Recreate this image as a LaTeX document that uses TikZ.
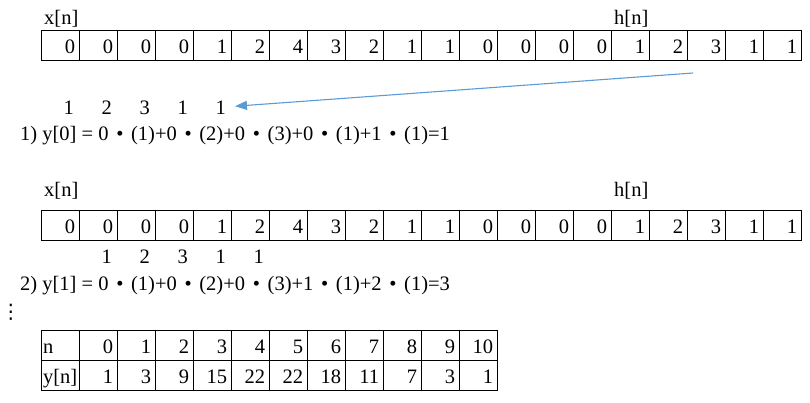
\documentclass[tikz,border=0pt]{standalone}
\usepackage{fontspec}
\setmainfont{Liberation Serif}
\newfontfamily\symfont{DejaVu Sans}
\usepackage{xcolor}
\usetikzlibrary{arrows.meta}

\definecolor{arrowblue}{RGB}{91,155,213}
\newcommand{\mdot}{\makebox[1.1em]{•}}

\tikzset{
  cell/.style={draw, line width=0.8pt, minimum width=38pt, minimum height=30pt,
    text width=30pt, align=right, inner xsep=4pt, inner ysep=0pt,
    text height=17pt, text depth=1pt},
  lcell/.style={cell, text width=34pt, align=left, inner xsep=2pt},
  label/.style={anchor=base west, inner sep=0pt},
  flipped/.style={anchor=base east, inner sep=0pt},
  arrow/.style={arrowblue, line width=1.1pt, -{Triangle[length=12pt,width=9pt]}}
}

\begin{document}
\begin{tikzpicture}[x=1pt, y=-1pt, every node/.style={font=\fontsize{20.5pt}{24pt}\selectfont}]
  \useasboundingbox (0,0) rectangle (810,402);

  % Step 1: x[n] with h[n] beside it
  \node[label] (xlabA) at (44,24) {x[n]};
  \node[label] (hlabA) at (614,24) {h[n]};
  \foreach \v [count=\i from 0] in {0,0,0,0,1,2,4,3,2,1,1,0,0,0,0,1,2,3,1,1} {
    \node[cell] (xa\i) at ({60+38*\i},45) {\v};
  }

  % Flipped h[n] under the first cells
  \foreach \v [count=\i] in {1,2,3,1,1} {
    \node[flipped] (hra\i) at ({41+38*\i-5},114) {\v};
  }
  \coordinate (hstart) at (693,73);
  \draw[arrow] (hstart) -- ([xshift=9pt, yshift=1pt]hra5.east);

  \node[label] (eqA) at (20,140) {1) y[0] = 0\mdot(1)+0\mdot(2)+0\mdot(3)+0\mdot(1)+1\mdot(1)=1};

  % Step 2: shift by one
  \node[label] (xlabB) at (44,196) {x[n]};
  \node[label] (hlabB) at (614,196) {h[n]};
  \foreach \v [count=\i from 0] in {0,0,0,0,1,2,4,3,2,1,1,0,0,0,0,1,2,3,1,1} {
    \node[cell] (xb\i) at ({60+38*\i},225) {\v};
  }
  \foreach \v [count=\i] in {1,2,3,1,1} {
    \node[flipped] (hrb\i) at ({41+38*(\i+1)-5},263) {\v};
  }

  \node[label] (eqB) at (20,290) {2) y[1] = 0\mdot(1)+0\mdot(2)+0\mdot(3)+1\mdot(1)+2\mdot(1)=3};
  \node[font=\symfont\fontsize{20pt}{24pt}\selectfont, inner sep=0pt] (more) at (11,312) {⋮};

  % Result table
  \node[lcell] (tn) at (60,345) {n};
  \node[lcell] (ty) at (60,375) {y[n]};
  \foreach \v [count=\i] in {0,1,2,3,4,5,6,7,8,9,10} {
    \node[cell] (tn\i) at ({60+38*\i},345) {\v};
  }
  \foreach \v [count=\i] in {1,3,9,15,22,22,18,11,7,3,1} {
    \node[cell] (ty\i) at ({60+38*\i},375) {\v};
  }

\end{tikzpicture}
\end{document}
